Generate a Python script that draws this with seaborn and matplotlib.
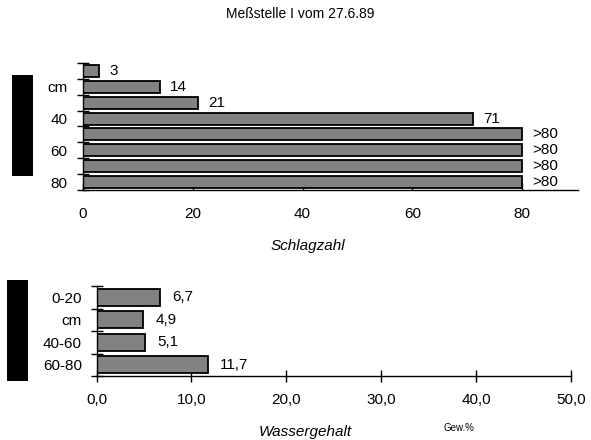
import matplotlib
matplotlib.use("Agg")
import matplotlib.pyplot as plt
import seaborn as sns
import pandas as pd
from matplotlib.patches import Rectangle

# ---- data ----
schlag_depth = ["0-10", "10-20", "20-30", "30-40", "40-50", "50-60", "60-70", "70-80"]
schlag_ylabels = ["", "cm", "", "40", "", "60", "", "80"]
schlag_values = [3, 14, 21, 71, 80, 80, 80, 80]
schlag_text = ["3", "14", "21", "71", ">80", ">80", ">80", ">80"]
schlag_xticks = [0, 20, 40, 60, 80]

wasser_depth = ["0-20", "20-40", "40-60", "60-80"]
wasser_ylabels = ["0-20", "cm", "40-60", "60-80"]
wasser_values = [6.7, 4.9, 5.1, 11.7]
wasser_text = ["6,7", "4,9", "5,1", "11,7"]
wasser_xticks = [0, 10, 20, 30, 40, 50]

sns.set_theme(style="white")
plt.rcParams["font.family"] = ["Liberation Sans", "DejaVu Sans"]
plt.rcParams.update({"text.color": "black", "axes.labelcolor": "black",
                     "xtick.color": "black", "ytick.color": "black"})

W, H = 591, 440
fig = plt.figure(figsize=(W / 100, H / 100), dpi=100)

def fx(px):
    return px / W

def fy(py):
    return (H - py) / H

bar_color = "#828282"

# ---- top chart ----
ax1 = fig.add_axes([fx(83), fy(190), fx(578) - fx(83), fy(63) - fy(190)])
df1 = pd.DataFrame({"depth": schlag_depth, "value": schlag_values})
sns.barplot(data=df1, x="value", y="depth", orient="h", ax=ax1, color=bar_color,
            saturation=1, width=0.76, edgecolor="black", linewidth=1.3)
ax1.set_xlim(0, 90.2)
ax1.set_ylim(7.5, -0.5)
ax1.set_xticks(schlag_xticks)
ax1.set_xticklabels([str(v) for v in schlag_xticks], fontsize=11)
ax1.set_yticks([i - 0.5 for i in range(len(schlag_depth) + 1)])
ax1.set_yticklabels([])
ax1.set_yticks(range(len(schlag_depth)), minor=True)
ax1.set_yticklabels(schlag_ylabels, minor=True, fontsize=11)
ax1.tick_params(axis="y", which="minor", left=True, length=0, pad=11)
ax1.tick_params(axis="y", which="major", left=True, direction="inout", length=8, width=1)
ax1.tick_params(axis="x", bottom=True, direction="in", length=5, width=1, pad=12)
ax1.bar_label(ax1.containers[0], labels=schlag_text, padding=7.5, fontsize=11)
for s in ["top", "right"]:
    ax1.spines[s].set_visible(False)
for s in ["left", "bottom"]:
    ax1.spines[s].set_color("black")
    ax1.spines[s].set_linewidth(1)
ax1.set_ylabel("")
ax1.set_xlabel("Schlagzahl", fontsize=11, style="italic", va="center")
ax1.xaxis.set_label_coords((308 - 83) / (578 - 83), -(246 - 190) / (190 - 63))

# ---- bottom chart ----
ax2 = fig.add_axes([fx(96.5), fy(376), fx(571) - fx(96.5), fy(286) - fy(376)])
df2 = pd.DataFrame({"depth": wasser_depth, "value": wasser_values})
sns.barplot(data=df2, x="value", y="depth", orient="h", ax=ax2, color=bar_color,
            saturation=1, width=0.76, edgecolor="black", linewidth=1.3)
ax2.set_xlim(0, 50)
ax2.set_ylim(3.5, -0.5)
ax2.set_xticks(wasser_xticks)
ax2.set_xticklabels([f"{v:.1f}".replace(".", ",") for v in wasser_xticks], fontsize=11)
ax2.set_yticks([i - 0.5 for i in range(len(wasser_depth) + 1)])
ax2.set_yticklabels([])
ax2.set_yticks(range(len(wasser_depth)), minor=True)
ax2.set_yticklabels(wasser_ylabels, minor=True, fontsize=11)
ax2.tick_params(axis="y", which="minor", left=True, length=0, pad=10.5)
ax2.tick_params(axis="y", which="major", left=True, direction="inout", length=8, width=1)
ax2.tick_params(axis="x", bottom=True, direction="inout", length=9, width=1, pad=8)
ax2.bar_label(ax2.containers[0], labels=wasser_text, padding=9, fontsize=11)
for s in ["top", "right"]:
    ax2.spines[s].set_visible(False)
for s in ["left", "bottom"]:
    ax2.spines[s].set_color("black")
    ax2.spines[s].set_linewidth(1)
ax2.set_ylabel("")
ax2.set_xlabel("Wassergehalt", fontsize=11, style="italic", va="center")
ax2.xaxis.set_label_coords((305 - 96.5) / (571 - 96.5), -(432 - 376) / (376 - 286))
fig.text(fx(459), fy(428), "Gew.%", fontsize=7, ha="center", va="center")

# ---- title and black bars ----
fig.text(fx(300), fy(14), "Meßstelle I vom 27.6.89", fontsize=10, ha="center", va="center")
fig.patches.append(Rectangle((fx(12), fy(176)), fx(33) - fx(12), fy(75) - fy(176),
                             transform=fig.transFigure, facecolor="black", edgecolor="none"))
fig.patches.append(Rectangle((fx(7), fy(381)), fx(28) - fx(7), fy(280) - fy(381),
                             transform=fig.transFigure, facecolor="black", edgecolor="none"))

fig.savefig("out.png", dpi=100)
